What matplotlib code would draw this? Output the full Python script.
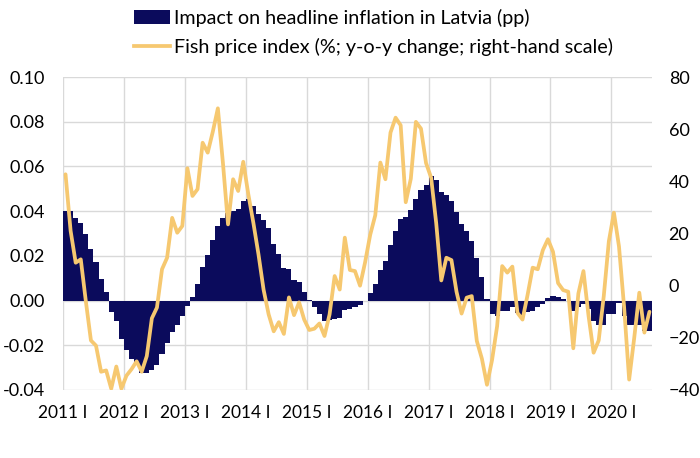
import matplotlib
matplotlib.use("Agg")
import matplotlib.pyplot as plt
from matplotlib.patches import Patch
from matplotlib.lines import Line2D
import numpy as np

plt.rcParams['font.family'] = ['Lato', 'DejaVu Sans']

# x-axis: monthly data Jan 2011 .. Aug 2020; labels at each January
year_labels = ["2011 I", "2012 I", "2013 I", "2014 I", "2015 I",
               "2016 I", "2017 I", "2018 I", "2019 I", "2020 I"]

# Impact on headline inflation in Latvia (pp), left scale
impact = [
    0.040, 0.040, 0.037, 0.0346, 0.030, 0.0232, 0.0174, 0.0098, 0.0038, -0.005,
    -0.0092, -0.0172, -0.022, -0.0262, -0.029, -0.0326, -0.0323, -0.031, -0.029, -0.024,
    -0.019, -0.014, -0.011, -0.007, -0.0025, 0.0016, 0.0075, 0.0148, 0.0205, 0.0273,
    0.0335, 0.0368, 0.039, 0.0402, 0.0409, 0.0446, 0.0453, 0.0425, 0.0386, 0.036,
    0.0325, 0.0254, 0.0209, 0.0146, 0.0142, 0.0093, 0.0084, 0.0037, 0.0002, -0.003,
    -0.006, -0.009, -0.0088, -0.0082, -0.008, -0.004, -0.0037, -0.0027, -0.0022, -0.0002,
    0.0034, 0.0075, 0.0138, 0.0178, 0.025, 0.0312, 0.0367, 0.0372, 0.0404, 0.0456,
    0.0494, 0.0517, 0.0556, 0.0539, 0.0484, 0.0471, 0.0444, 0.0396, 0.0344, 0.031,
    0.0266, 0.0191, 0.0105, 0.0005, -0.006, -0.007, -0.0045, -0.0045, -0.003, -0.0055,
    -0.007, -0.005, -0.0045, -0.003, -0.0015, 0.001, 0.0022, 0.0015, 0.0008, -0.0003,
    -0.0045, -0.003, -0.0015, -0.0038, -0.009, -0.011, -0.011, -0.006, -0.0058, -0.0013,
    -0.007, -0.011, -0.011, -0.011, -0.0134, -0.0134,
]

# Fish price index (%; y-o-y change), right scale
fish = [
    42.7, 21.0, 8.8, 10.1, -6.0, -21.0, -23.0, -33.0, -32.5, -39.5,
    -31.0, -39.5, -34.5, -32.0, -29.0, -33.0, -27.0, -12.5, -8.4, 6.3,
    10.7, 26.0, 20.3, 22.9, 45.0, 34.4, 37.0, 54.8, 51.0, 59.0,
    68.0, 47.0, 23.5, 40.8, 36.3, 47.5, 35.0, 24.0, 12.0, -1.5,
    -11.0, -17.5, -14.0, -18.5, -4.5, -11.3, -6.4, -13.0, -17.0, -16.5,
    -14.5, -19.3, -11.0, 3.7, -1.5, 18.4, 6.0, 5.6, 0.0, 9.0,
    19.5, 27.0, 47.2, 40.8, 58.7, 64.4, 61.5, 32.0, 41.0, 62.8,
    60.2, 47.0, 41.4, 24.0, 2.0, 10.7, 9.8, -2.3, -10.7, -4.6,
    -4.0, -21.2, -28.0, -38.0, -28.5, -15.5, 7.5, 5.0, 7.3, -10.4,
    -13.0, -3.5, 6.9, 6.3, 13.6, 17.8, 13.0, 1.0, -1.7, -2.3,
    -24.0, -3.0, 5.6, -11.5, -25.7, -21.0, -4.0, 17.0, 28.0, 15.0,
    -8.0, -36.0, -20.0, -2.7, -18.0, -10.0,
]

bar_label = "Impact on headline inflation in Latvia (pp)"
line_label = "Fish price index (%; y-o-y change; right-hand scale)"

navy = "#0b0b5c"
gold = "#f6c870"
grid_c = "#d9d9d9"

fig = plt.figure(figsize=(7.0, 4.58), dpi=100)
ax = fig.add_axes([63 / 700, 68 / 458, 589 / 700, 313 / 458])
ax2 = ax.twinx()

n = len(impact)
x = np.arange(n) + 0.5
ax.bar(x, impact, width=1.0, color=navy, linewidth=0, zorder=2)
ax2.plot(x, fish, color=gold, lw=2.7, solid_joinstyle='round',
         solid_capstyle='round', zorder=3)

ax.set_xlim(0, n)
ax.set_ylim(-0.04, 0.10)
yt = np.round(np.arange(-0.04, 0.1001, 0.02), 2)
ax.set_yticks(yt)
ax.set_yticklabels([f"{v:.2f}" for v in yt])
ax2.set_ylim(-40, 80)
ax2.set_yticks(np.arange(-40, 81, 20))

ax.set_xticks(np.arange(0, n, 12))
ax.set_xticklabels(year_labels)

ax.set_axisbelow(True)
ax.grid(True, color=grid_c, lw=1.0, zorder=0)

for a in (ax, ax2):
    for s in a.spines.values():
        s.set_visible(False)
ax.tick_params(axis='both', length=0, labelsize=13, colors='#000000')
ax.tick_params(axis='x', labelsize=12.5, pad=11)
ax.tick_params(axis='y', pad=13)
ax2.tick_params(axis='y', length=0, labelsize=13, pad=12)

handles = [Patch(facecolor=navy, edgecolor='none'),
           Line2D([], [], color=gold, lw=2.7)]
fig.legend(handles, [bar_label, line_label], loc='upper left',
           bbox_to_anchor=(134 / 700, 1 - 9 / 458), frameon=False,
           fontsize=14.2, handlelength=1.85, handletextpad=0.18,
           labelspacing=0.55, borderaxespad=0, borderpad=0)

fig.savefig("out.png", dpi=100)
